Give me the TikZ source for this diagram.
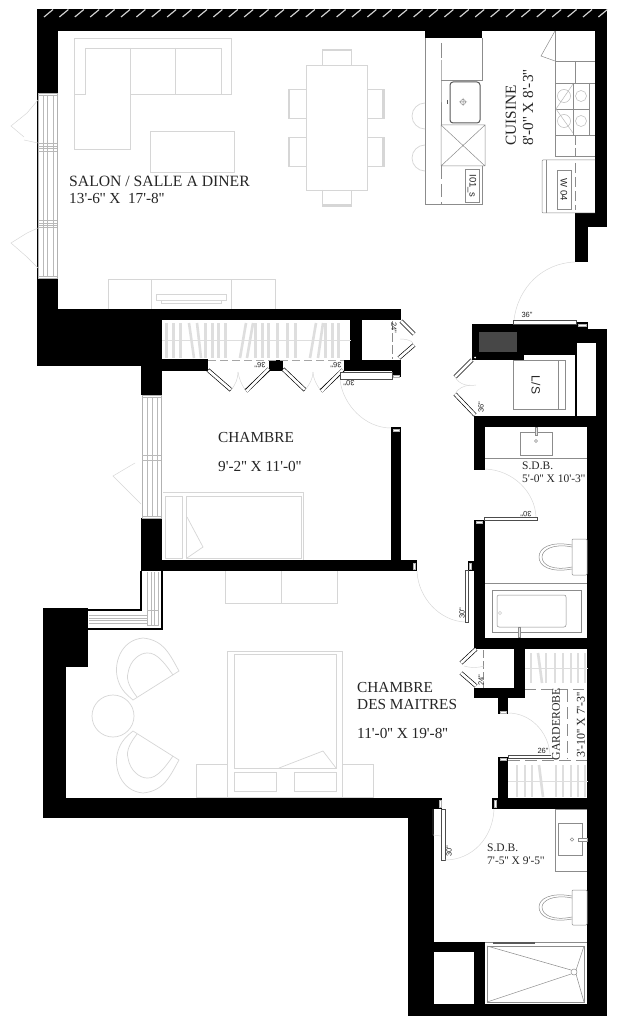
\documentclass[tikz,border=0pt]{standalone}
\usepackage{fontspec}
\newfontfamily\planserif{Liberation Serif}
\newfontfamily\plansans{Liberation Sans}
\definecolor{furn}{gray}{0.84}
\definecolor{fix}{gray}{0.55}
\definecolor{hang}{gray}{0.87}
\tikzset{
  wall/.style={fill=black},
  furn/.style={draw=furn,line width=0.7pt},
  fixt/.style={draw=fix,line width=0.5pt},
  darkfix/.style={draw=gray!70!black,line width=0.7pt},
  leaf/.style={draw=gray!60!black,fill=white,line width=0.5pt},
  swing/.style={draw=gray!32,line width=0.45pt},
  bar/.style={draw=hang,line width=2.6pt},
  rod/.style={draw=hang,line width=0.8pt},
  doorline/.style={draw=gray!70,line width=0.5pt,dash pattern=on 8pt off 4pt},
  jamb/.style={fill=white,draw=gray!60,line width=0.2pt},
  winbox/.style={draw=gray!60,fill=white,line width=0.5pt},
  winln/.style={draw=gray!55,line width=0.5pt},
  foldleaf/.style={line width=4pt,draw=black,line cap=butt},
  foldin/.style={line width=2.7pt,draw=white,line cap=butt},
  room/.style={font=\planserif\fontsize{15.3}{16}\selectfont,text=black!85,inner sep=0pt,anchor=west},
  roomsm/.style={font=\planserif\fontsize{11.5}{13}\selectfont,text=black!85,inner sep=0pt,anchor=west},
  dim/.style={font=\plansans\fontsize{7.5}{8}\selectfont,text=black!85,inner sep=0pt},
  applabel/.style={font=\plansans\fontsize{9.5}{10}\selectfont,text=black!85,inner sep=0pt}
}
\begin{document}
\begin{tikzpicture}[x=1pt,y=-1pt]
\useasboundingbox (0,0) rectangle (616,1024);
\fill[white] (0,0) rectangle (616,1024);
% walls
\foreach \a/\b/\c/\d in {
 37/9/607/31, 37/31/58/309, 37/309/401/320, 37/320/162/366,
 141/366/162/395, 141/518/162/571, 162/359/208/371, 269/360/283/371,
 344/360/401/371, 392/371/401/377, 350/320/362/360, 391/427/401/560,
 141/560/417/571, 425/31/482/38, 595/31/607/227, 575/213/607/227,
 575/227/588/262, 472/324/524/360, 472/324/576/355, 576/322/588/329,
 575/329/607/343, 596/343/607/1016, 575/343/577/416, 474/416/596/427,
 474/427/485/470, 587/427/596/1016, 474/520/485/649, 468/561/474/571,
 474/638/587/649, 514/649/525/698, 474/688/525/698, 498/698/508/714,
 498/757/508/809, 492/798/587/809, 43/798/442/809, 43/809/434/818,
 43/608/66/818, 43/608/88/667, 408/818/434/1016, 408/1004/607/1016,
 434/942/485/952, 474/952/485/1004}
 {\fill[wall] (\a,\b) rectangle (\c,\d);}
% hatch of the top wall
\foreach \k in {0,...,36}
 {\draw[gray!35,line width=1.2pt] ({44+15.4*\k},17) -- ({53+15.4*\k},9.5);}
% jamb marks
\foreach \a/\b/\c/\d in {
 393/429/399/431, 413/563/415/569, 469/563/471/569, 476/521/482/523,
 578/324/586/326, 393/375/399/377, 500/711/506/713, 500/758/506/760,
 439/800/441/807, 494/800/496/807}
 {\filldraw[jamb] (\a,\b) rectangle (\c,\d);}
% core dark box
\fill[black!72] (479,332) rectangle (517,352);
\fill[white] (475,357.5) circle (1);
% windows salon
\filldraw[winbox] (38,93) rectangle (57,278);
\foreach \x in {43,47,53} {\draw[winln] (\x,95) -- (\x,276);}
\foreach \y in {95,143,146,148,151,220,223,225,227,276} {\draw[winln] (38,\y) -- (57,\y);}
% window chambre
\filldraw[winbox] (142,395) rectangle (161,518);
\foreach \x in {147,152,157} {\draw[winln] (\x,397) -- (\x,516);}
\foreach \y in {397,455,460,516} {\draw[winln] (142,\y) -- (161,\y);}
% corner window
\fill[white] (141,571) -- (162,571) -- (162,629) -- (88,629) -- (88,610) -- (141,610) -- cycle;
\draw[black,line width=2pt] (141,571) -- (141,610) -- (88,610);
\draw[black,line width=2pt] (162,571) -- (162,629) -- (88,629);
\foreach \x in {147,151,154,158} {\draw[winln] (\x,572) -- (\x,625);}
\foreach \y in {615,618,620,623} {\draw[winln] (89,\y) -- (147,\y);}
\draw[winln] (147,610) rectangle (158,625);
% window swings
\draw[swing] (27,113) -- (11,126) -- (24,137) (24,140) -- (38,143) (27,113) -- (38,100);
\draw[swing] (27,233) -- (11,243) -- (27,257) -- (38,268) (27,233) -- (38,228);
\draw[swing] (135,463) -- (113,476) -- (141,504);
% salon furniture
\draw[furn] (74,38) -- (231,38) -- (231,94) -- (130,94) -- (130,149) -- (74,149) -- cycle;
\draw[furn] (74,94) -- (85,94) -- (85,48) -- (221,48) -- (221,94);
\draw[furn] (130,48) -- (130,94) (175,48) -- (175,94);
\draw[furn] (150,131) rectangle (234,172);
\draw[furn] (108,309) -- (108,279) -- (275,279) -- (275,309) (151,279) -- (151,309) (231,279) -- (231,309);
\draw[furn] (156,294) rectangle (226,300) (161,300) -- (161,303) -- (221,303) -- (221,300);
% dining
\draw[furn] (306,65) rectangle (367,190);
\foreach \y in {89,137} {
 \draw[furn] (306,\y) -- (288,\y) -- (288,\y+29) -- (306,\y+29);
 \draw[furn] (367,\y) -- (384,\y) -- (384,\y+29) -- (367,\y+29);
 \draw[furn,line width=1.4pt] (289,\y) -- (289,\y+29) (383,\y) -- (383,\y+29);
}
\draw[furn] (322,65) -- (322,49) -- (351,49) -- (351,65) (322,190) -- (322,206) -- (351,206) -- (351,190);
\draw[furn,line width=1.4pt] (322,50) -- (351,50) (322,205) -- (351,205);
% kitchen counter
\draw[fixt] (425,38) -- (425,204) -- (482,204) -- (482,166);
\draw[fixt] (482,38) -- (482,80) -- (441,80);
\draw[fixt] (441,60) -- (441,80) -- (441,125);
\draw[fixt,dash pattern=on 15pt off 4pt] (441,43) -- (441,60);
\draw[fixt,dash pattern=on 13pt off 5pt] (441,166) -- (441,204);
\draw[darkfix,line width=1pt,rounded corners=3pt] (450,82) rectangle (480,123);
\draw[fixt] (463,102) circle (2.6) (459,102) -- (467,102) (463,98) -- (463,106);
\draw[darkfix] (447,100) -- (447,104);
\draw[fixt] (441,125) rectangle (485,166) (441,125) -- (485,166) (441,166) -- (485,125);
\draw[fixt] (465,169) rectangle (479,202);
\node[applabel,rotate=-90] (iol) at (472,186) {I01\_s};
\draw[furn] (425,129) arc[start angle=90,end angle=270,x radius=13,y radius=13];
\draw[furn] (425,171) arc[start angle=90,end angle=270,x radius=13,y radius=13];
% kitchen right
\draw[fixt] (555,31) -- (555,156) -- (595,156);
\draw[fixt] (555,61) -- (595,61);
\draw[fixt] (555,31) -- (541,56) -- (555,61);
\draw[fixt] (575,61) -- (575,83);
\draw[fixt] (555,83) -- (595,83) (555,135) -- (595,135);
\draw[fixt] (589,83) -- (589,135) (573,83) -- (573,135) (555,109) -- (589,109);
\foreach \x/\y/\r in {564/96/6.5,581/96/5.5,564/121/6.5,581/121/5.5} {\draw[fixt,draw=gray!55] (\x,\y) circle (\r);}
\draw[fixt,draw=gray!55] (573,84) -- (556,109) -- (573,133);
\draw[fixt,dash pattern=on 10pt off 3pt] (575,135) -- (575,156);
\draw[fixt,rounded corners=1pt] (595,160) -- (542,160) -- (542,213) -- (595,213);
\draw[fixt] (546,160) -- (546,213);
\draw[fixt] (557,170) rectangle (571,209);
\node[applabel,rotate=-90] (wqt) at (564,189.5) {W 04};
\draw[fixt,dash pattern=on 10pt off 4pt] (575,163) -- (575,210);
% entrance door
\filldraw[leaf] (513,320) rectangle (576,324);
\node[dim] (d36a) at (527,315) {36"};
\draw[swing] (575,262) .. controls (543,263) and (518,287) .. (514,320);
% L/S
\draw[fixt] (513,360) rectangle (565,409);
\draw[fixt] (558,360) -- (558,409);
\node[applabel,font=\plansans\fontsize{12}{12}\selectfont,rotate=-90] (ls) at (536,385) {L/S};
\draw[foldleaf] (472,360) -- (455,377); \draw[foldin] (472,360) -- (455,377);
\draw[foldleaf] (475,415) -- (455,394); \draw[foldin] (475,415) -- (455,394);
\draw[swing] (455,377) .. controls (460,386) and (470,386) .. (476,385);
\draw[swing] (455,394) .. controls (458,388) and (464,386) .. (470,385);
\node[dim,rotate=90] (d36b) at (481,407) {36"};
% closet chambre
\draw[rod] (162,340) -- (351,340);
\foreach \x in {166,173,180,205,212,218,225,255,262,268,277,287,295,325,332,338}
 {\draw[bar] (\x+.5,323) -- (\x+.5,358);}
\draw[bar] (189,323) -- (194,358);
\draw[bar] (197,323) -- (201,358);
\draw[bar] (246,323) -- (240,358);
\draw[bar] (247,358) -- (253,323) ;
\draw[bar] (310,358) -- (316,323);
\draw[bar] (318,358) -- (323,323);
\draw[doorline] (208,360) -- (344,360);
\foreach \a/\b/\c/\d in {208/370/231/390, 246/391/269/369, 283/369/305/390, 321/391/343/370}
 {\draw[foldleaf] (\a,\b) -- (\c,\d); \draw[foldin] (\a+.3,\b+.3) -- (\c-.3,\d-.3);}
\draw[swing] (231,390) .. controls (236,384) and (238,378) .. (238,372);
\draw[swing] (246,391) .. controls (241,384) and (239,378) .. (238,372);
\draw[swing] (305,390) .. controls (310,384) and (313,378) .. (313,372);
\draw[swing] (321,391) .. controls (316,384) and (313,378) .. (313,372);
\node[dim,rotate=180] (d36c) at (260,365) {36"};
\node[dim,rotate=180] (d36d) at (336,365) {36"};
% 24 closet
\draw[fixt,dash pattern=on 9pt off 3pt] (392,321) -- (392,359);
\draw[foldleaf] (401,321) -- (414,334); \draw[foldin] (401,321) -- (414,334);
\draw[foldleaf] (399,358) -- (414,345); \draw[foldin] (399,358) -- (414,345);
\draw[swing] (400,339) .. controls (405,339) and (411,340) .. (413,343);
\node[dim,rotate=-90] (d24a) at (394,328) {24"};
% door chambre
\filldraw[leaf] (340,372) rectangle (392,379);
\draw[swing] (340,380) .. controls (343,405) and (365,428) .. (391,428);
\node[dim,rotate=180] (d30a) at (349,383) {30"};
% chambre bed
\draw[furn] (163,492) -- (303,492) -- (303,560);
\draw[furn] (165,496) rectangle (182,558);
\draw[furn] (186,496) rectangle (301,558);
\draw[furn] (187,517) -- (203,547) -- (187,558);
% master furniture
\draw[furn] (225,571) -- (225,603) -- (337,603) -- (337,571) (281,571) -- (281,603);
\draw[furn] (227,651) rectangle (342,797);
\draw[furn] (234,654) rectangle (336,768);
\draw[furn] (234,772) rectangle (276,791);
\draw[furn] (294,772) rectangle (336,791);
\draw[furn] (196,764) rectangle (227,797);
\draw[furn] (342,764) rectangle (373,797);
\draw[furn] (279,768) -- (323,751) -- (336,768);
\draw[furn] (113,716) circle (21);
\foreach \sg/\off in {1/0,-1/1431} {
 \draw[furn] (133,{\off+\sg*700}) -- (179,{\off+\sg*671})
   .. controls (170,{\off+\sg*655}) and (164,{\off+\sg*640}) .. (143,{\off+\sg*638})
   .. controls (120,{\off+\sg*640}) and (113,{\off+\sg*665}) .. (118,{\off+\sg*680})
   .. controls (121,{\off+\sg*690}) and (127,{\off+\sg*695}) .. (133,{\off+\sg*700});
 \draw[furn] (137,{\off+\sg*697})
   .. controls (130,{\off+\sg*688}) and (126,{\off+\sg*680}) .. (128,{\off+\sg*673})
   .. controls (130,{\off+\sg*660}) and (140,{\off+\sg*653}) .. (147,{\off+\sg*653})
   .. controls (157,{\off+\sg*652}) and (166,{\off+\sg*665}) .. (173,{\off+\sg*675});
}
% SDB upper
\draw[fixt] (485,458) -- (587,458) (485,583) -- (587,583);
\draw[fixt] (520,432) rectangle (552,455);
\filldraw[fixt,fill=gray!20] (535,427) rectangle (537,435);
\draw[fixt] (536,441) circle (1.5);
\filldraw[leaf] (484,517) rectangle (537,520);
\draw[swing] (485,469) .. controls (513,470) and (535,492) .. (536,517);
\node[dim,rotate=180] (d30b) at (526,514) {30"};
\filldraw[fixt,fill=white,rounded corners=1pt] (572,539) -- (587,539) -- (587,575) -- (572,575) -- cycle;
\draw[fixt] (572,545) .. controls (550,541) and (539,548) .. (539,557) .. controls (539,566) and (550,573) .. (572,569);
\draw[fixt] (572,547) .. controls (553,543) and (542,550) .. (542,557) .. controls (542,565) and (553,571) .. (572,567);
\draw[fixt] (492,590) rectangle (581,632);
\draw[fixt,rounded corners=2pt] (497,595) rectangle (566,627);
\draw[furn] (500,613) circle (1.6);
\filldraw[fixt,fill=gray!20] (518,627) rectangle (520,637);
% bath door
\filldraw[leaf] (465,570) rectangle (468,622);
\draw[swing] (417,571) .. controls (418,598) and (440,621) .. (465,622);
\node[dim,rotate=90] (d30c) at (462,613) {30"};
% garderobe
\draw[fixt,dash pattern=on 8pt off 3pt] (483,650) -- (483,688);
\draw[foldleaf] (476,649) -- (461,663); \draw[foldin] (476,649) -- (461,663);
\draw[foldleaf] (476,686) -- (461,673); \draw[foldin] (476,686) -- (461,673);
\draw[swing] (464,666) .. controls (470,668) and (478,668) .. (484,666);
\node[dim,rotate=90] (d24b) at (481,680) {24"};
\draw[rod] (525,668) -- (588,668);
\foreach \x in {531,546,555,563,571,578,585} {\draw[bar] (\x,653) -- (\x,683);}
\draw[bar] (538,653) -- (542,683);
\draw[rod] (508,781) -- (588,781);
\foreach \x in {517,525,532,556,563,571,578,585} {\draw[bar] (\x,765) -- (\x,797);}
\draw[bar] (539,765) -- (543,797);
\draw[fixt,dash pattern=on 11pt off 5pt] (525,689) -- (587,689);
\draw[fixt,dash pattern=on 12pt off 5pt] (508,760) -- (587,760);
\draw[fixt,dash pattern=on 12pt off 5pt] (567,690) -- (567,759);
\filldraw[leaf] (508,755) rectangle (552,758);
\draw[swing] (508,713) .. controls (530,713) and (548,731) .. (550,754);
\node[dim] (d26) at (543,751) {26"};
\fill[white] (551,690) rectangle (561,758);
\node[font=\planserif\fontsize{11.8}{13}\selectfont,text=black!85,inner sep=0pt,rotate=90] (gard) at (556,724) {GARDEROBE};
\fill[white] (576,690) rectangle (587,760);
\node[font=\planserif\fontsize{12}{13}\selectfont,text=black!85,inner sep=0pt,rotate=90] (gdim) at (581,725) {3'-10'' X 7'-3''};
% SDB lower
\filldraw[leaf] (441,809) rectangle (445,860);
\draw[swing] (433,809) -- (433,835) -- (441,836);
\draw[swing] (445,860) .. controls (472,860) and (493,838) .. (494,809);
\node[dim,rotate=90] (d30d) at (449,851) {30"};
\draw[fixt] (587,809) -- (555,809) -- (555,871) -- (587,871);
\draw[fixt] (558,823) rectangle (582,855);
\filldraw[fixt,fill=white] (578,838) rectangle (587,841);
\draw[fixt] (572,839.5) circle (1.8);
\filldraw[fixt,fill=white,rounded corners=1pt] (572,890) -- (587,890) -- (587,925) -- (572,925) -- cycle;
\draw[fixt] (572,896) .. controls (550,892) and (539,899) .. (539,907) .. controls (539,916) and (550,923) .. (572,919);
\draw[fixt] (572,898) .. controls (553,894) and (542,901) .. (542,907) .. controls (542,915) and (553,921) .. (572,917);
\draw[fixt] (485,942) -- (587,942);
\draw[fixt] (487,946) rectangle (584,1002);
\draw[fixt] (487,946) -- (571,970) (487,1002) -- (571,974) (584,946) -- (576,970) (584,1002) -- (576,974);
\draw[fixt] (574,972) circle (3);
\draw[gray!70!black,line width=1.2pt] (493,943) -- (535,943);
% texts
\node[room,font=\planserif\fontsize{15.7}{16}\selectfont] (t1) at (69,181) {SALON / SALLE A DINER};
\node[room] (t2) at (69,198) {13'-6'' X\ \ 17'-8''};
\node[room,rotate=90] (t3) at (511,146) {CUISINE};
\node[room,rotate=90] (t4) at (528,146) {8'-0'' X 8'-3''};
\node[room] (t5) at (218,438) {CHAMBRE};
\node[room] (t6) at (218,466) {9'-2'' X 11'-0''};
\node[room] (t7) at (357,688) {CHAMBRE};
\node[room] (t8) at (357,705) {DES MAITRES};
\node[room] (t9) at (357,733) {11'-0'' X 19'-8''};
\node[roomsm] (t10) at (522,466) {S.D.B.};
\node[roomsm] (t11) at (522,479) {5'-0'' X 10'-3''};
\node[roomsm] (t12) at (487,848) {S.D.B.};
\node[roomsm] (t13) at (487,861) {7'-5'' X 9'-5''};
\end{tikzpicture}
\end{document}
